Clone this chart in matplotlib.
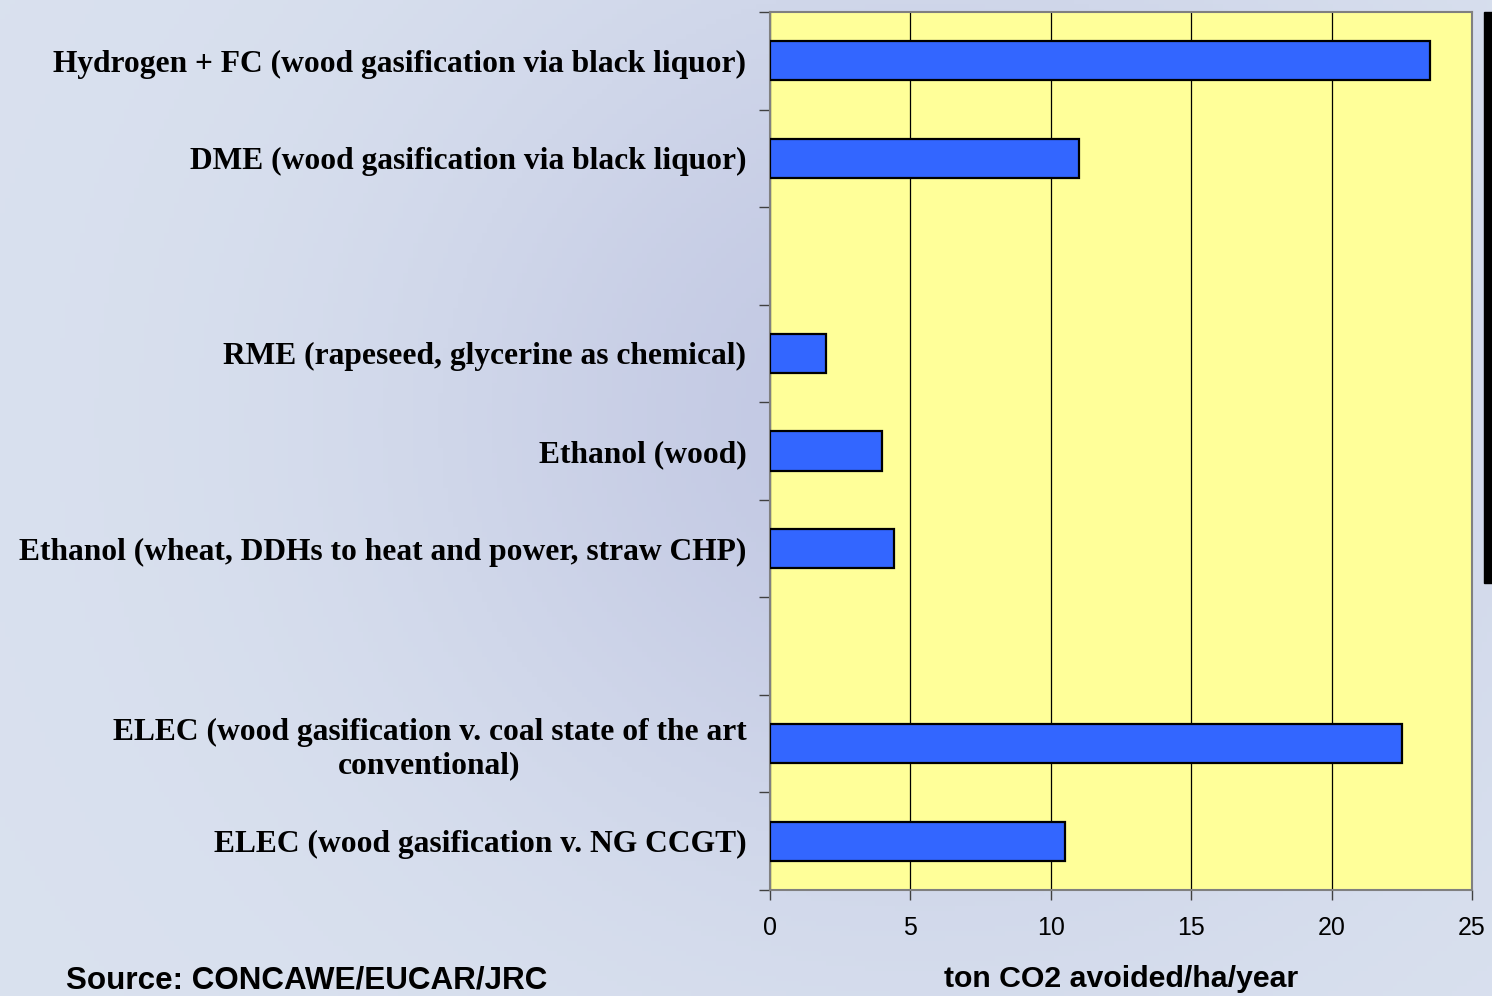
import matplotlib
matplotlib.use('Agg')
import matplotlib.pyplot as plt
import numpy as np
from matplotlib.patches import Rectangle

# Pathways, top to bottom; empty strings are spacer rows
categorias = [
    'Hydrogen + FC (wood gasification via black liquor)',
    'DME (wood gasification via black liquor)',
    '',
    'RME (rapeseed, glycerine as chemical)',
    'Ethanol (wood)',
    'Ethanol (wheat, DDHs to heat and power, straw CHP)',
    '',
    'ELEC (wood gasification v. coal state of the art\nconventional)',
    'ELEC (wood gasification v. NG CCGT)',
]
valores = [23.5, 11.0, np.nan, 2.0, 4.0, 4.4, np.nan, 22.5, 10.5]
xticks = [0, 5, 10, 15, 20, 25]

COR_BARRA = '#3366FF'
COR_FUNDO = '#FFFF99'

fig = plt.figure(figsize=(14.92, 9.96), dpi=100)

# soft bluish backdrop: lighter to the left and bottom, lavender in the middle
fundo = fig.add_axes([0, 0, 1, 1], zorder=-10)
gx, gy = np.meshgrid(np.linspace(0, 1, 300), np.linspace(0, 1, 200))
claro = np.array([222, 230, 241]) / 255
escuro = np.array([194, 200, 227]) / 255
t = np.exp(-((gx - 0.62) ** 2 / 0.12 + (gy - 0.42) ** 2 / 0.22))
t = np.clip(0.15 + 0.85 * t, 0, 1)
img = claro[None, None, :] * (1 - t[..., None]) + escuro[None, None, :] * t[..., None]
fundo.imshow(img, aspect='auto', extent=[0, 1, 0, 1], origin='upper')
fundo.axis('off')

ax = fig.add_axes([770 / 1492, 1 - 890 / 996, 702 / 1492, 878 / 996])
ax.set_facecolor(COR_FUNDO)

pos = np.arange(len(categorias))
mask = ~np.isnan(valores)
ax.barh(pos[mask], np.array(valores)[mask], height=0.4, color=COR_BARRA,
        edgecolor='black', linewidth=1.6, zorder=3)

ax.set_xlim(0, 25)
ax.set_ylim(len(categorias) - 0.5, -0.5)
ax.set_xticks(xticks)
ax.set_xticklabels([str(v) for v in xticks], fontsize=18, family='Liberation Sans')
ax.xaxis.grid(True, color='black', linewidth=0.9, zorder=1)

# tick marks between categories, labels at category centres
ax.set_yticks(np.arange(-0.5, len(categorias), 1.0))
ax.set_yticklabels([])
ax.set_yticks(pos, minor=True)
ax.set_yticklabels(categorias, minor=True, fontsize=22.7,
                   family='Liberation Serif', fontweight='bold')
ax.tick_params(axis='y', which='minor', length=0, pad=17)
ax.tick_params(axis='y', which='major', length=8, width=1, color='#404040')
ax.tick_params(axis='x', length=7, width=1, color='#404040', pad=12)
for lbl in ax.get_yticklabels(minor=True):
    lbl.set_multialignment('center')

for lado in ['left', 'right', 'top', 'bottom']:
    ax.spines[lado].set_color('#808080')
    ax.spines[lado].set_linewidth(1.5)

ax.set_xlabel('ton CO2 avoided/ha/year', fontsize=21.8, family='Liberation Sans',
              fontweight='bold', labelpad=18)

fig.text(66 / 1492, 1 - 980 / 996, 'Source: CONCAWE/EUCAR/JRC', fontsize=22.6,
         family='Liberation Sans', fontweight='bold', va='center', ha='left')

fig.patches.append(Rectangle((1484 / 1492, 1 - 583 / 996), 8 / 1492, 571 / 996,
                             transform=fig.transFigure, color='black'))

fig.savefig('out.png', dpi=100)
